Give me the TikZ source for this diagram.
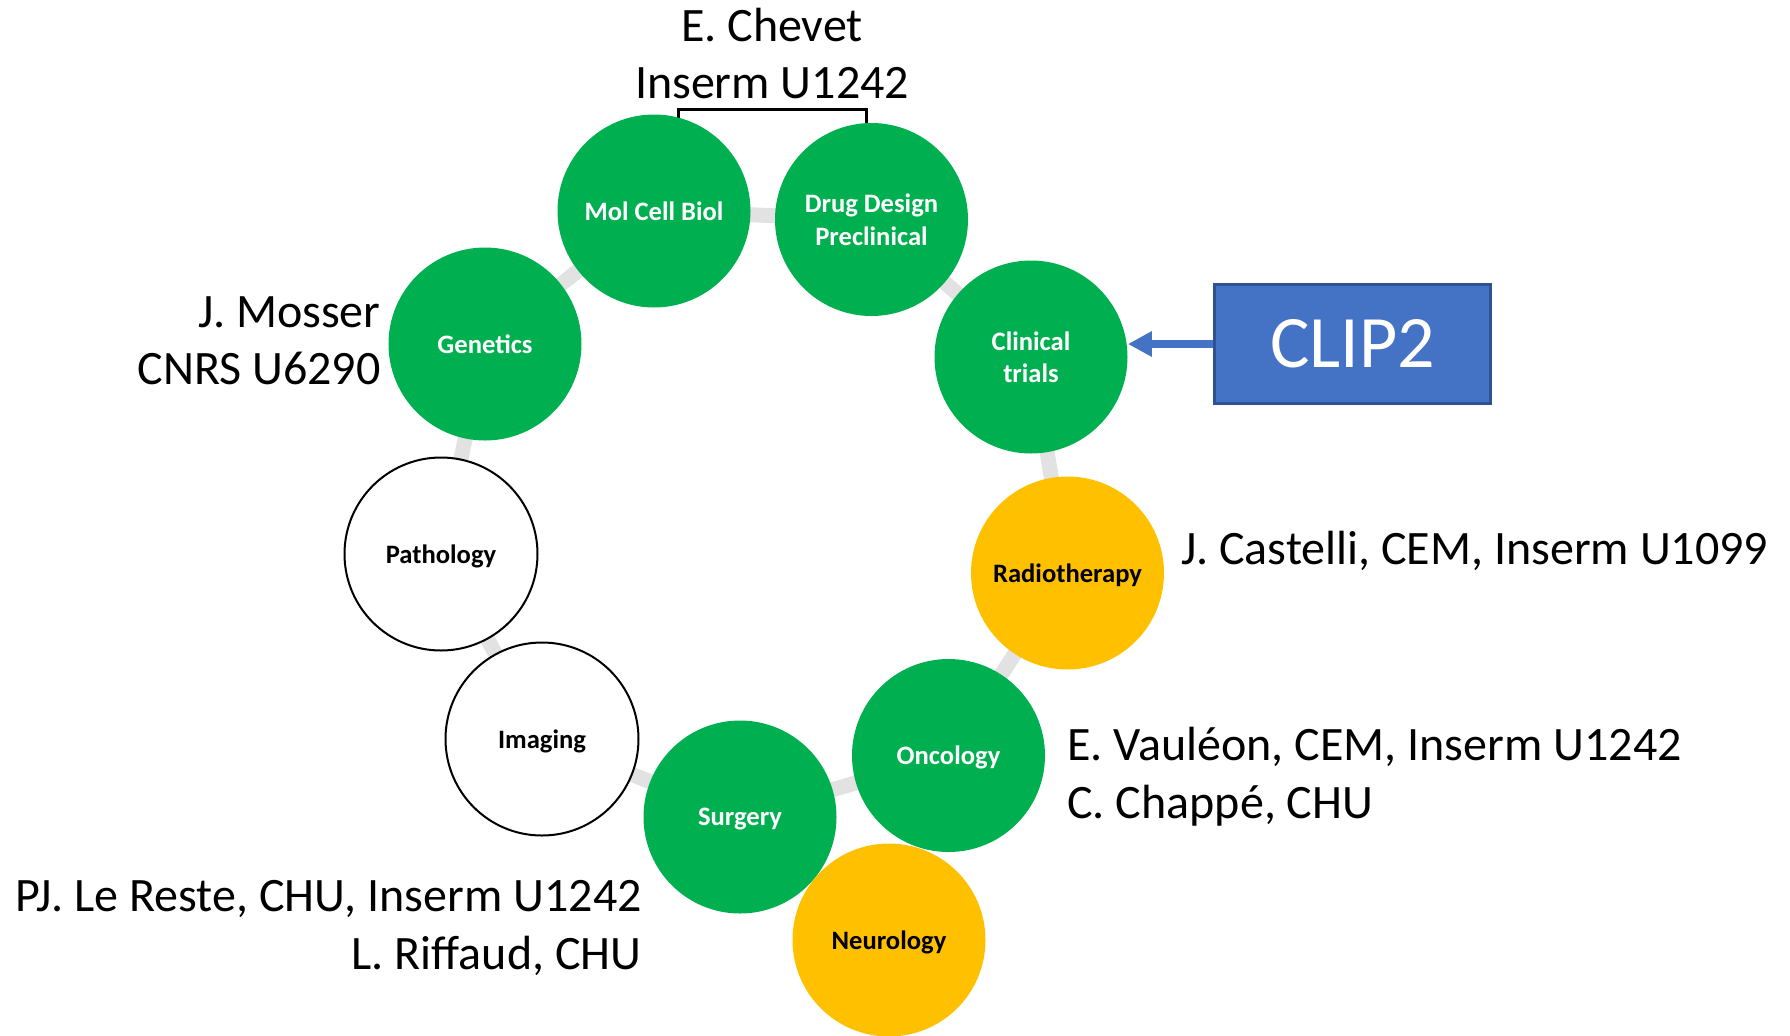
\documentclass[tikz,border=0pt]{standalone}
\usepackage{fontspec}
\setmainfont{Carlito}
\usepackage{tikz}
\usetikzlibrary{positioning, arrows.meta, backgrounds}

\definecolor{clipgreen}{HTML}{00B050}
\definecolor{clipgold}{HTML}{FFC000}
\definecolor{clipblue}{HTML}{4472C4}
\definecolor{clipedge}{HTML}{2F528F}
\definecolor{linkgray}{HTML}{E2E2E2}

\begin{document}
\begin{tikzpicture}[x=0.5pt, y=-0.5pt,
      field/.style={circle, minimum size=96.5pt, inner sep=0pt, align=center,
         text depth=0pt, font=\fontsize{13.3}{16.2}\selectfont\bfseries},
      cgreen/.style={field, fill=clipgreen, text=white},
      cgold/.style={field, fill=clipgold},
      cwhite/.style={field, draw=black, line width=1pt, fill=white},
      link/.style={draw=linkgray, line width=7.5pt},
      who/.style={inner sep=0pt, font=\fontsize{24}{29}\selectfont},
      bracket/.style={draw=black, line width=1.5pt},
   ]
   \useasboundingbox (0,0) rectangle (1790,1035);

   % the ring of disciplines
   \node[cgreen] (gen) at (485,344) {Genetics};
   \node[cgreen] (mol) at (654,211) {Mol Cell Biol};
   \node[cgreen] (drug) at (871.5,219.5) {Drug Design\\Preclinical};
   \node[cgreen] (clin) at (1031,357) {Clinical\\trials};
   \node[cgold] (radio) at (1067.5,573) {Radiotherapy};
   \node[cgreen] (surg) at (740,817) {Surgery};
   \node[cgold] (neuro) at (889,940) {Neurology};
   \node[cgreen] (onco) at (948.5,755.5) {Oncology};
   \node[cwhite] (img) at (542,739) {Imaging};
   \node[cwhite] (patho) at (441,554) {Pathology};

   % teams
   \node[who, anchor=base] (chevet) at (772,41) {E. Chevet};
   \node[who, anchor=base] (chevetlab) at ([yshift=-28.5pt]chevet.base) {Inserm U1242};
   \node[who, anchor=base east] (mosser) at (381,327) {J. Mosser};
   \node[who, anchor=base east] (mosserlab) at ([yshift=-28.5pt]mosser.base east) {CNRS U6290};
   \node[who, anchor=base west] (castelli) at (1181,564) {J. Castelli, CEM, Inserm U1099};
   \node[who, anchor=base west] (vauleon) at (1067,760) {E. Vauléon, CEM, Inserm U1242};
   \node[who, anchor=base west] (chappe) at ([yshift=-29pt]vauleon.base west) {C. Chappé, CHU};
   \node[who, anchor=base east] (lereste) at (642,911) {PJ. Le Reste, CHU, Inserm U1242};
   \node[who, anchor=base east] (riffaud) at ([yshift=-29pt]lereste.base east) {L. Riffaud, CHU};

   \node[draw=clipedge, line width=1.5pt, fill=clipblue, text=white,
      minimum width=138pt, minimum height=59.5pt,
      font=\fontsize{37}{44}\selectfont] (clip) at (1352.5,344) {CLIP2};
   \draw[-{Triangle[length=12pt,width=12pt]}, clipblue, line width=4pt]
      (clip.west) -- (clip.west -| clin.east);

   \begin{scope}[on background layer]
      \draw[link] (gen.center) -- (mol.center) -- (drug.center) -- (clin.center)
         -- (radio.center) -- (onco.center) -- (surg.center) -- (img.center)
         -- (patho.center) -- (gen.center);
      \draw[bracket] ([xshift=12pt]mol.center) |- ([yshift=-5.5pt]chevetlab.base)
         -| ([xshift=-2.75pt]drug.center);
   \end{scope}
\end{tikzpicture}
\end{document}
